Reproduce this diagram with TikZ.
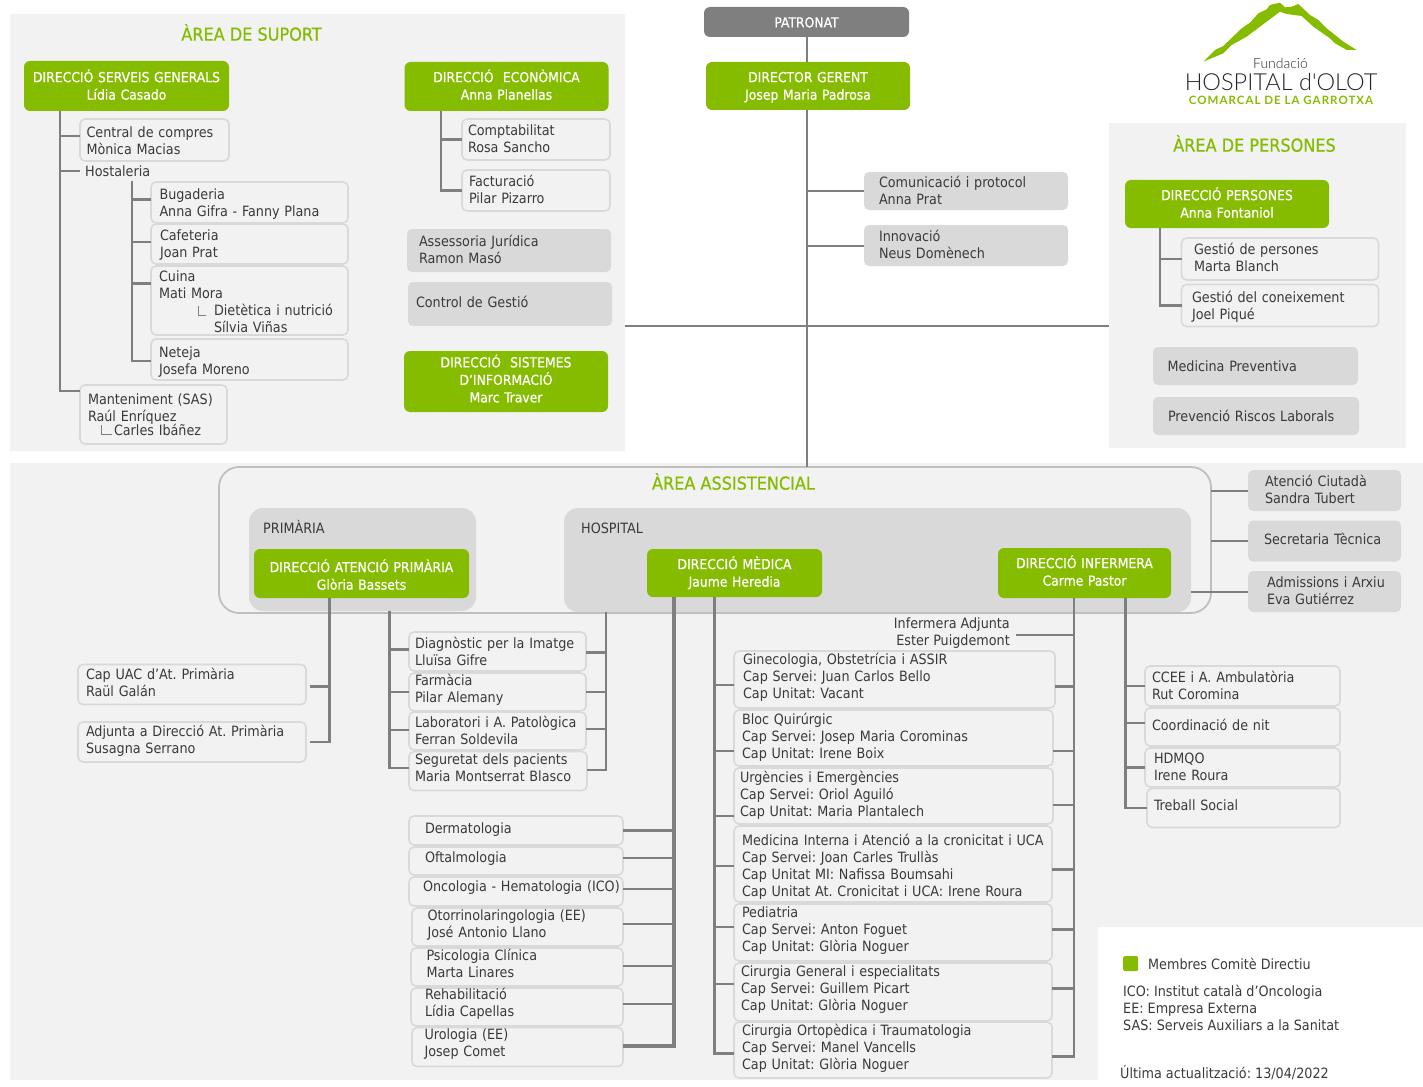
\documentclass[tikz,border=0pt]{standalone}
\usepackage{fontspec}
\setmainfont{DejaVu Sans Condensed}
\newfontfamily\headfont{DejaVu Sans Condensed}[FakeBold=0.6]
\newfontfamily\logofont{Lato Light}
\newfontfamily\logobold{Lato}[LetterSpace=9]
\usepackage{tikz}
\usetikzlibrary{calc}

\definecolor{panelgrey}{HTML}{F2F2F2}
\definecolor{boxgrey}{HTML}{D9D9D9}
\definecolor{linegrey}{HTML}{7F7F7F}
\definecolor{dirgreen}{HTML}{86BC00}
\definecolor{inkgrey}{HTML}{3A3A3A}

\def\boxnudge{2}
\def\boxtail{5.1}
\newcommand\nudgetop{\pgfmathsetmacro\nudgeh{11.9+2*max(\boxnudge,0)}\rule{0pt}{\nudgeh pt}}
\newcommand\nudgebot{\pgfmathsetmacro\nudged{\boxtail+2*max(-\boxnudge,0)}\rule[-\nudged pt]{0pt}{0pt}}

\tikzset{
  nudge/.code={\def\boxnudge{#1}},
  tail/.code={\def\boxtail{#1}},
  panel/.style={fill=panelgrey, draw=none, anchor=north west, inner sep=0},
  basetext/.style={font=\fontsize{14.2}{17}\selectfont\frenchspacing, text=inkgrey},
  softbox/.style n args={3}{basetext, anchor=north west, fill=panelgrey, draw=boxgrey, line width=1.6, rounded corners=5,
    inner sep=0, outer sep=0, align=left, text width=#1, minimum height=#2,
    execute at begin node={\leftskip=#3pt\nudgetop}, execute at end node={\nudgebot}},
  greybox/.style n args={3}{softbox={#1}{#2}{#3}, fill=boxgrey, draw=none},
  dirbox/.style 2 args={nudge=0, font=\headfont\fontsize{13.8}{17.5}\selectfont\frenchspacing, text=white, anchor=north west, fill=dirgreen, rounded corners=6,
    inner sep=0, outer sep=0, align=center, text width=#1, minimum height=#2,
    execute at begin node={\nudgetop}, execute at end node={\nudgebot}},
  areatitle/.style={font=\headfont\fontsize{17.9}{20}\selectfont, text=dirgreen},
  plain/.style={basetext, align=left, inner sep=0},
  conn/.style={draw=linegrey, line width=2.6},
  connb/.style={draw=linegrey, line width=3.6},
  thinconn/.style={draw=linegrey, line width=2}
}

\begin{document}
\begin{tikzpicture}[x=1pt, y=-1pt]
\useasboundingbox (0,0) rectangle (1423,1086);

% areas
\node[panel, minimum width=615, minimum height=437] (suport) at (10,14) {};
\node[panel, minimum width=297, minimum height=325] (persones) at (1109,123) {};
\fill[panelgrey] (10,463) -- (1423,463) -- (1423,927) -- (1098,927) -- (1098,1080) -- (10,1080) -- cycle;
\node[anchor=north west, minimum width=992, minimum height=146, inner sep=0, outer sep=0, draw=black!25, line width=1.8, rounded corners=20] (asist) at (219,467) {};
\node[anchor=north west, minimum width=227, minimum height=103, inner sep=0, outer sep=0, fill=boxgrey, rounded corners=14] (primaria) at (249,508) {};
\node[anchor=north west, minimum width=627, minimum height=104, inner sep=0, outer sep=0, fill=boxgrey, rounded corners=14] (hospital) at (564,508) {};

\node[areatitle] (titsuport) at (251.5,32.5) {ÀREA DE SUPORT};
\node[areatitle] (titpersones) at (1254.5,143.5) {ÀREA DE PERSONES};
\node[areatitle] (titasist) at (733.5,481.5) {ÀREA ASSISTENCIAL};
\node[plain, anchor=west] (titprim) at (263,527) {PRIMÀRIA};
\node[plain, anchor=west] (tithosp) at (581,528) {HOSPITAL};

% direccio
\node[dirbox={205}{30}, fill=linegrey, nudge=2] (patronat) at (704,7) {PATRONAT};
\node[dirbox={204}{48}, nudge=1.5] (gerent) at (706,62) {DIRECTOR GERENT\\Josep Maria Padrosa};
\node[dirbox={205}{50}, nudge=1.5] (dirsg) at (24,61) {DIRECCIÓ SERVEIS GENERALS\\Lídia Casado};
\node[dirbox={204}{49}, nudge=1] (dirEcon) at (404.5,62) {DIRECCIÓ\ \ ECONÒMICA\\Anna Planellas};
\node[dirbox={204}{61}, nudge=-0.5] (dirSist) at (404,351) {DIRECCIÓ\ \ SISTEMES\\D’INFORMACIÓ\\Marc Traver};
\node[dirbox={204}{48}, nudge=1.5] (dirPers) at (1125,180) {DIRECCIÓ PERSONES\\Anna Fontaniol};
\node[dirbox={215}{49}, nudge=4] (dirPrim) at (254,549) {DIRECCIÓ ATENCIÓ PRIMÀRIA\\Glòria Bassets};
\node[dirbox={175}{48}, nudge=1.5] (dirMed) at (647,549) {DIRECCIÓ MÈDICA\\Jaume Heredia};
\node[dirbox={173}{50}] (dirInf) at (998,548) {DIRECCIÓ INFERMERA\\Carme Pastor};

% area de suport
\node[softbox={149}{42}{6.5}, nudge=3] (compres) at (80,119) {Central de compres\\Mònica Macias};
\node[plain, anchor=west, inner xsep=5, minimum height=20] (hostal) at (80,171) {Hostaleria};
\node[softbox={197}{41}{8.5}] (bugad) at (151,182) {Bugaderia\\Anna Gifra - Fanny Plana};
\node[softbox={197}{40}{9}] (cafet) at (151,224) {Cafeteria\\Joan Prat};
\node[softbox={197}{69}{8}, tail=2] (cuina) at (151,266) {Cuina\\Mati Mora\\\hspace*{55pt}Dietètica i nutrició\\\hspace*{55pt}Sílvia Viñas};
\node[softbox={197}{41}{8}, nudge=3.5] (neteja) at (151,339) {Neteja\\Josefa Moreno};
\node[softbox={147}{59}{8}] (mantmt) at (80,385) {Manteniment (SAS)\\Raúl Enríquez\\[-3pt]\hspace*{26pt}Carles Ibáñez};
\node[softbox={148}{41}{6}, nudge=1] (compt) at (462,119) {Comptabilitat\\Rosa Sancho};
\node[softbox={148}{41}{7}, nudge=1] (factur) at (462,170) {Facturació\\Pilar Pizarro};
\node[greybox={204}{43}{12}, nudge=1] (assess) at (407,229) {Assessoria Jurídica\\Ramon Masó};
\node[greybox={204}{44}{8}, nudge=0] (control) at (408,282) {Control de Gestió};
\draw[linegrey, line width=1] (198,306) |- (206,315);
\draw[linegrey, line width=1] (101,425) |- (112,434);

% centre i persones
\node[greybox={204}{38}{15}] (comunic) at (864,172) {Comunicació i protocol\\Anna Prat};
\node[greybox={204}{41}{15}, nudge=1] (innov) at (864,225) {Innovació\\Neus Domènech};
\node[softbox={197}{42}{12.5}, nudge=1] (gestpers) at (1181.5,238) {Gestió de persones\\Marta Blanch};
\node[softbox={197}{42}{10.5}] (gestcon) at (1181.5,284.5) {Gestió del coneixement\\Joel Piqué};
\node[greybox={205}{38}{14.5}] (medprev) at (1153,347) {Medicina Preventiva};
\node[greybox={206}{38}{15}] (prevenc) at (1153,397) {Prevenció Riscos Laborals};

% laterals assistencial
\node[greybox={153}{41}{17}, nudge=1] (atencio) at (1248,470) {Atenció Ciutadà\\Sandra Tubert};
\node[greybox={153}{41}{16}, nudge=0] (secret) at (1248,520.5) {Secretaria Tècnica};
\node[greybox={153}{41}{19}, nudge=1] (admiss) at (1248,571) {Admissions i Arxiu\\Eva Gutiérrez};

% primaria
\node[softbox={228}{40}{8}, nudge=0] (capuac) at (78,664.5) {Cap UAC d’At. Primària\\Raül Galán};
\node[softbox={228}{40}{8}, nudge=0] (adjunta) at (78,722) {Adjunta a Direcció At. Primària\\Susagna Serrano};

% serveis centrals
\node[softbox={177}{39}{6}] (diagn) at (409,632) {Diagnòstic per la Imatge\\Lluïsa Gifre};
\node[softbox={177}{38}{6}, nudge=-1] (farma) at (409,673) {Farmàcia\\Pilar Alemany};
\node[softbox={177}{38}{6}] (labor) at (409,712) {Laboratori i A. Patològica\\Ferran Soldevila};
\node[softbox={178}{39}{6}, nudge=-1] (segur) at (409,751.5) {Seguretat dels pacients\\Maria Montserrat Blasco};

% direccio medica, esquerra
\node[softbox={214}{29}{16}, nudge=0] (derma) at (409,816) {Dermatologia};
\node[softbox={214}{28}{16}, nudge=-2] (oftal) at (409,847) {Oftalmologia};
\node[softbox={214}{29}{14}, nudge=-3] (oncol) at (409,877) {Oncologia - Hematologia (ICO)};
\node[softbox={211}{38}{15.5}, nudge=-1] (otorr) at (412,908) {Otorrinolaringologia (EE)\\José Antonio Llano};
\node[softbox={212}{38}{15.5}, nudge=-1] (psico) at (411,948) {Psicologia Clínica\\Marta Linares};
\node[softbox={212}{38}{14}, nudge=-2] (rehab) at (411,988) {Rehabilitació\\Lídia Capellas};
\node[softbox={211}{39}{12.5}, nudge=-2.5] (urolo) at (412,1027.5) {Urologia (EE)\\Josep Comet};

% direccio medica i infermera
\node[softbox={321}{57}{9}, nudge=-1] (ginec) at (734,651) {Ginecologia, Obstetrícia i ASSIR\\Cap Servei: Juan Carlos Bello\\Cap Unitat: Vacant};
\node[softbox={319}{56}{8}, nudge=0] (bloc) at (734,710) {Bloc Quirúrgic\\Cap Servei: Josep Maria Corominas\\Cap Unitat: Irene Boix};
\node[softbox={319}{56}{6}, nudge=0] (urgen) at (734,768) {Urgències i Emergències\\Cap Servei: Oriol Aguiló\\Cap Unitat: Maria Plantalech};
\node[softbox={318}{76}{8}, nudge=4] (mediint) at (734,826) {Medicina Interna i Atenció a la cronicitat i UCA\\Cap Servei: Joan Carles Trullàs\\Cap Unitat MI: Nafissa Boumsahi\\Cap Unitat At. Cronicitat i UCA: Irene Roura};
\node[softbox={318}{57}{8}, nudge=-1] (pedia) at (734,904) {Pediatria\\Cap Servei: Anton Foguet\\Cap Unitat: Glòria Noguer};
\node[softbox={318}{58}{7}, nudge=-2] (cirgen) at (734,963) {Cirurgia General i especialitats\\Cap Servei: Guillem Picart\\Cap Unitat: Glòria Noguer};
\node[softbox={318}{56}{8}, nudge=-1] (cirort) at (734,1022) {Cirurgia Ortopèdica i Traumatologia\\Cap Servei: Manel Vancells\\Cap Unitat: Glòria Noguer};
\node[plain, anchor=east, align=right, inner xsep=6] (infadj) at (1016,633.5) {Infermera Adjunta\\Ester Puigdemont};

\node[softbox={195}{40}{7}] (ccee) at (1145,666) {CCEE i A. Ambulatòria\\Rut Coromina};
\node[softbox={195}{38}{7}, nudge=0] (coord) at (1145,708) {Coordinació de nit};
\node[softbox={195}{39}{9}, nudge=1] (hdmqo) at (1145,748) {HDMQO\\Irene Roura};
\node[softbox={193}{39}{7}, nudge=-1] (trebs) at (1147,788.5) {Treball Social};

% llegenda
\node[anchor=north west, fill=dirgreen, rounded corners=1.5, minimum size=15, inner sep=0] (llegcol) at (1123,956) {};
\node[plain, anchor=west] (llegtxt) at (1148,963.5) {Membres Comitè Directiu};
\node[plain, anchor=north west] (llegsig) at (1123,985) {ICO: Institut català d’Oncologia\\EE: Empresa Externa\\SAS: Serveis Auxiliars a la Sanitat};
\node[plain, anchor=west] (llegdata) at (1120,1073) {Última actualització: 13/04/2022};

% connexions
\coordinate (sgbus) at (60,0);
\coordinate (hostbus) at (132,0);
\coordinate (ecobus) at (441,0);
\coordinate (gerbus) at (807,0);
\coordinate (perbus) at (1160,0);
\coordinate (primbus) at (329.5,0);
\coordinate (cenbusa) at (389.5,0);
\coordinate (cenbusb) at (606,0);
\coordinate (medbusa) at (674,0);
\coordinate (medbusb) at (714.5,0);
\coordinate (infbusa) at (1074,0);
\coordinate (infbusb) at (1125.5,0);
\coordinate (hline) at (807,326);

\foreach \nm/\dy in {compres/4, hostal/0, mantmt/23.5} \draw[conn] (dirsg.south -| sgbus) |- ([yshift=\dy]\nm.west);
\foreach \nm/\dy in {bugad/3, cafet/2, cuina/17, neteja/-1.5} \draw[conn] (hostal.south -| hostbus) |- ([yshift=\dy]\nm.west);
\foreach \nm in {compt, factur} \draw[conn] (dirEcon.south -| ecobus) |- (\nm.west);
\draw[thinconn] (patronat.south) -- (patronat.south |- gerent.north);
\draw[conn] (gerent.south -| gerbus) -- (asist.north -| gerbus);
\foreach \nm in {comunic, innov} \draw[thinconn] (gerent.south -| gerbus) |- (\nm.west);
\draw[thinconn] (hline -| suport.east) -- (hline -| persones.west);
\foreach \nm in {gestpers, gestcon} \draw[conn] (dirPers.south -| perbus) |- (\nm.west);
\foreach \nm in {atencio, secret} \draw[thinconn] (asist.east |- \nm.west) -- (\nm.west);
\draw[thinconn] (hospital.east |- admiss.west) -- (admiss.west);
\foreach \nm/\dy in {capuac/-2, adjunta/0} \draw[conn] (dirPrim.south -| primbus) |- ([xshift=4,yshift=\dy]\nm.east);
\foreach \nm/\dy in {diagn/2, farma/0, labor/1, segur/3} \draw[conn] (primaria.south -| cenbusa) |- ([yshift=\dy]\nm.west);
\foreach \nm/\dy in {diagn/-1, farma/0, labor/2, segur/1} \draw[conn] (hospital.south -| cenbusb) |- ([yshift=\dy]\nm.east);
\foreach \nm/\dy in {oftal/3, oncol/2.5, otorr/3, psico/1, rehab/3} \draw[conn] (dirMed.south -| medbusa) |- ([yshift=\dy]\nm.east);
\foreach \nm/\dy in {derma/0, urolo/1} \draw[connb] (dirMed.south -| medbusa) |- ([yshift=\dy]\nm.east);
\foreach \nm/\dy in {ginec/-5.5, bloc/-13, urgen/-20, mediint/-2, pedia/5.5, cirgen/8, cirort/-3.5} \draw[conn] (dirMed.south -| medbusb) |- ([yshift=\dy]\nm.west);
\foreach \nm/\dy in {ginec/-7, bloc/-13, urgen/-9, mediint/-5.5, pedia/3, cirgen/3.5, cirort/-6.5} \draw[conn] (dirInf.south -| infbusa) |- ([yshift=\dy]\nm.east);
\draw[thinconn] (dirInf.south -| infbusa) |- ([yshift=-1.2]infadj.east);
\foreach \nm/\dy in {ccee/0, coord/4, hdmqo/0, trebs/0} \draw[conn] (dirInf.south -| infbusb) |- ([yshift=\dy]\nm.west);

% logotip
\begin{scope}[shift={(1170,0)}, x=1pt/3, y=-1pt/3]
\fill[dirgreen] (100,185) -- (135,150) -- (160,138) -- (215,85) -- (240,68) -- (265,40) -- (290,28) -- (300,15) -- (330,8) -- (345,22) -- (365,20) -- (385,12)
  -- (420,45) -- (445,60) -- (470,85) -- (520,125) -- (560,150) -- (530,150) -- (495,130) -- (480,115) -- (430,80) -- (395,48) -- (350,42) -- (330,35)
  -- (290,65) -- (230,110) -- (185,135) -- (160,160) -- cycle;
\end{scope}
\node[font=\logofont\fontsize{14}{15}\selectfont, text=black!85, inner sep=0] (logofund) at (1280.5,63.5) {Fundació};
\node[font=\logofont\fontsize{23.5}{25}\selectfont, text=black!85, inner sep=0] (logohosp) at (1281,82.5) {HOSPITAL d'OLOT};
\node[font=\logobold\bfseries\fontsize{11.5}{13}\selectfont, text=dirgreen, inner sep=0] (logocom) at (1281,100.5) {COMARCAL DE LA GARROTXA};
\end{tikzpicture}
\end{document}
